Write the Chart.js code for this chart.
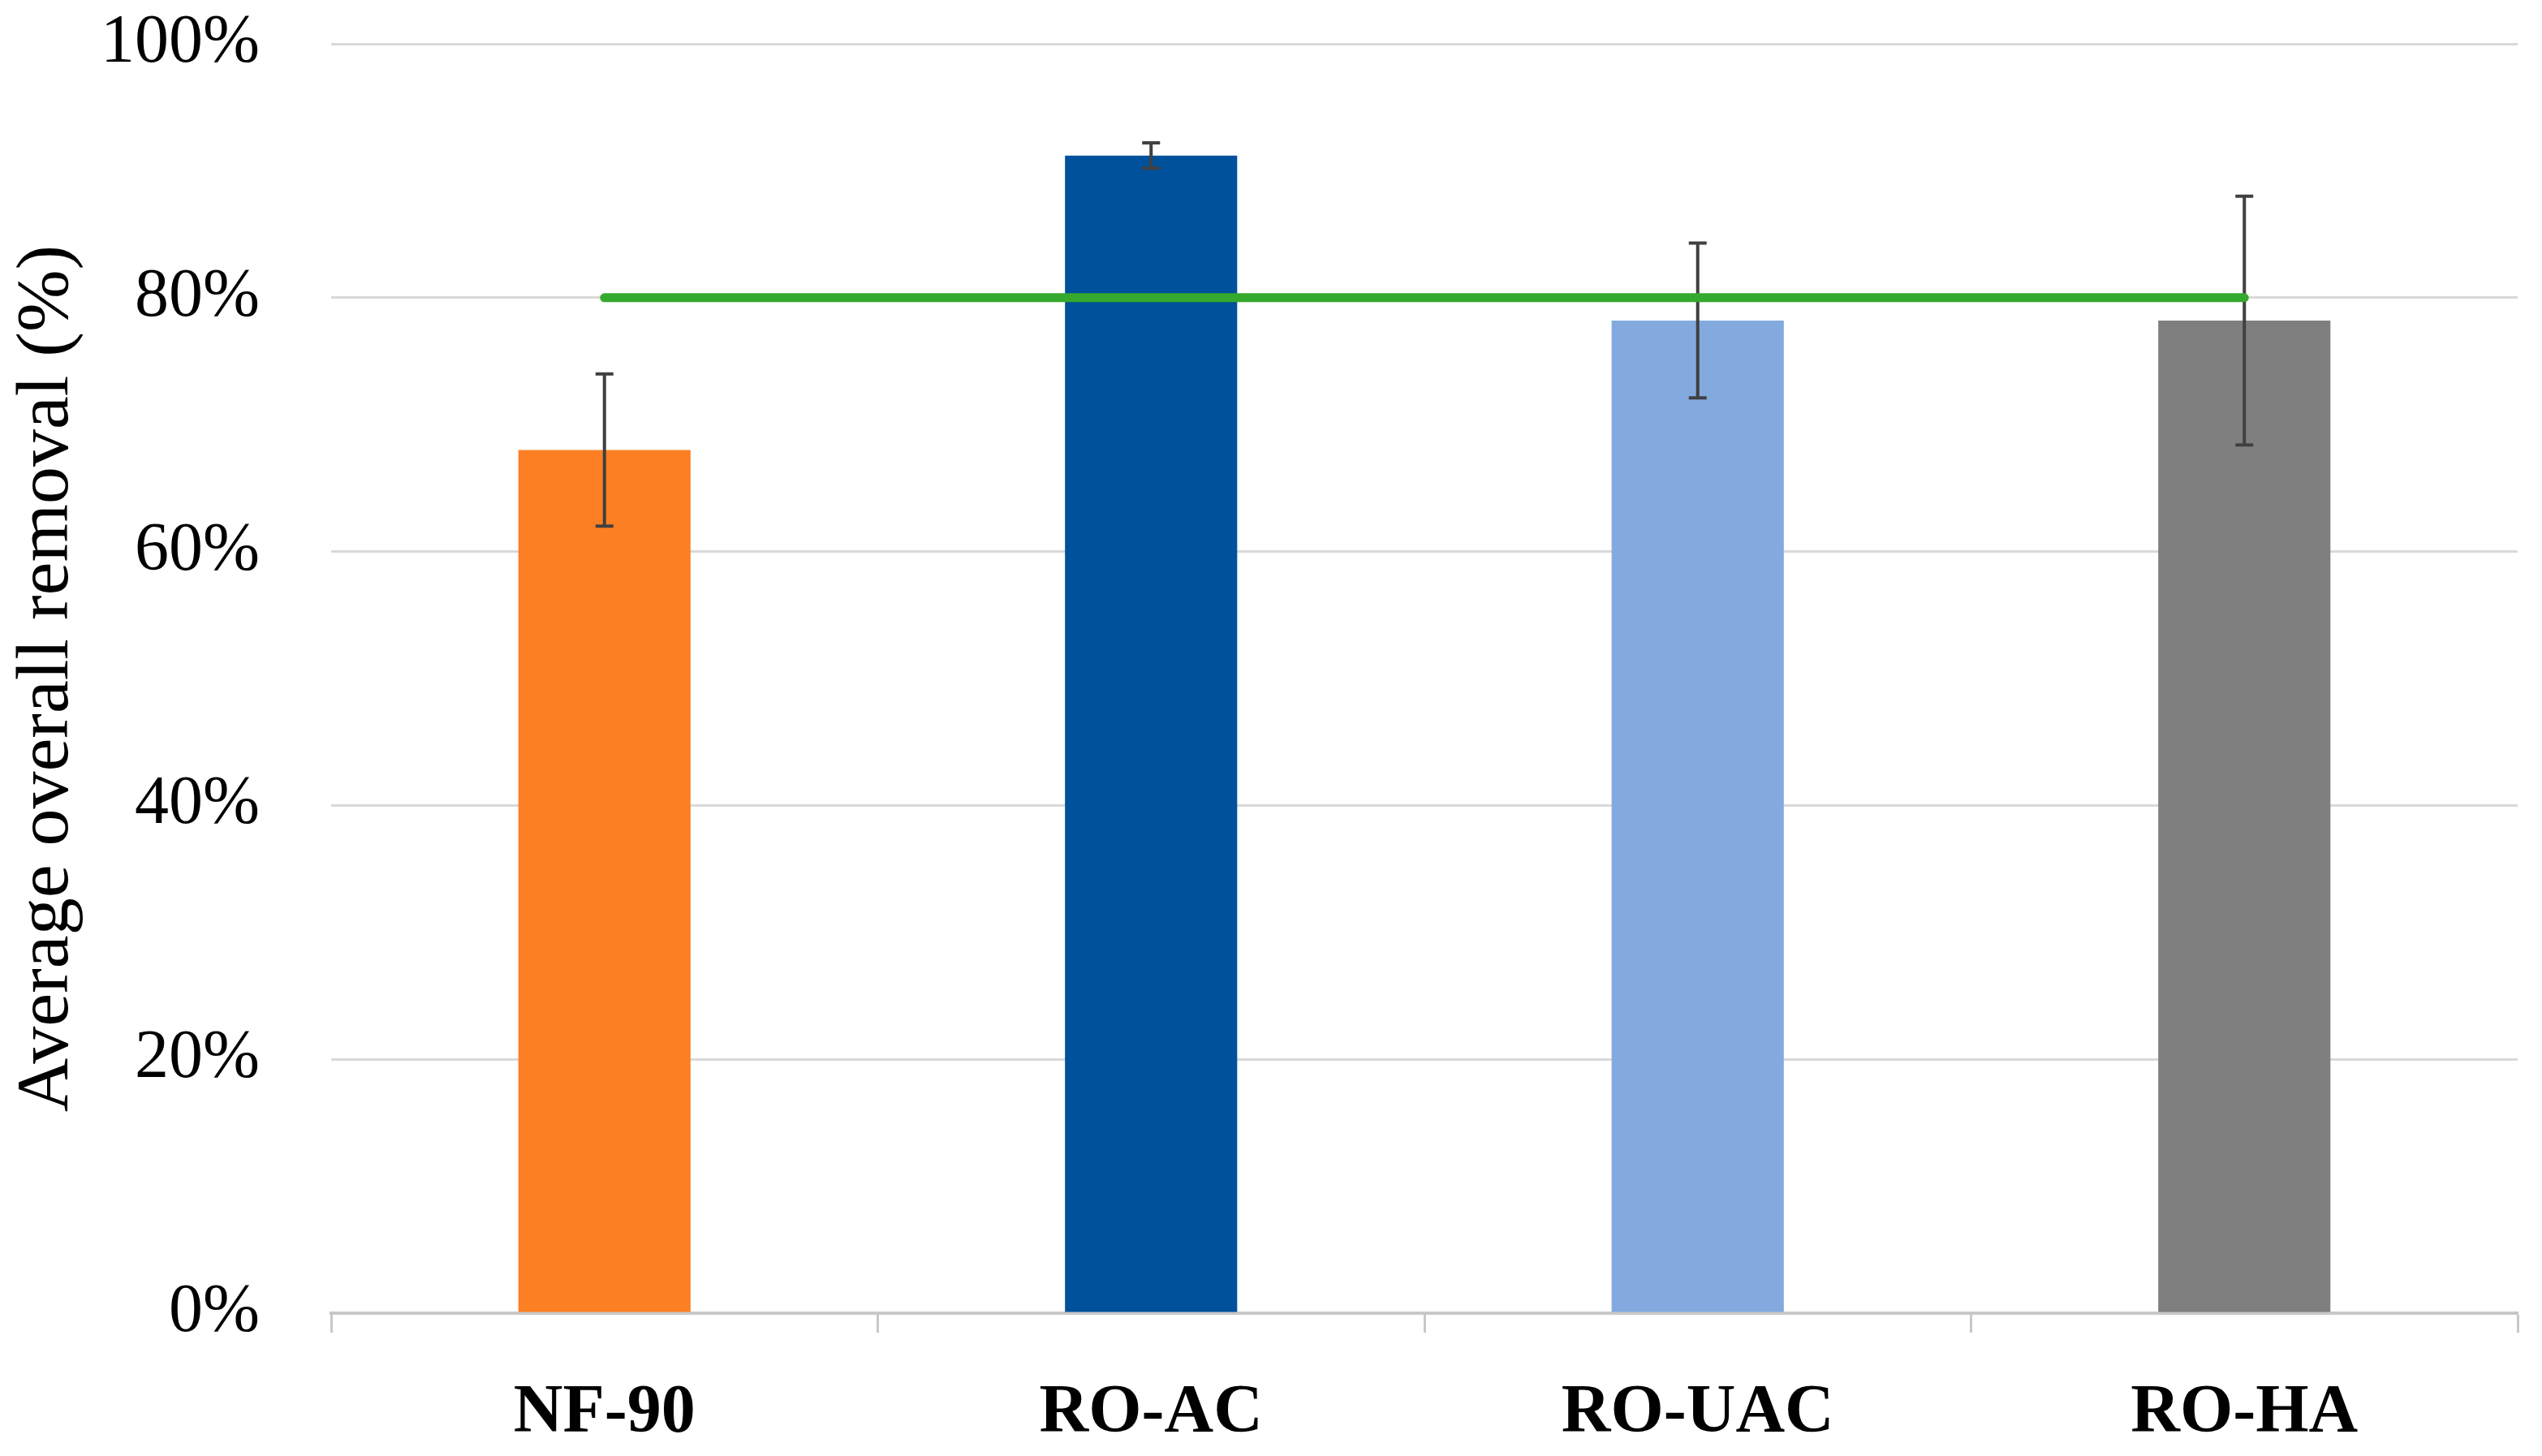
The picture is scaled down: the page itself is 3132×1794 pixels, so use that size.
<!DOCTYPE html>
<html>
<head>
<meta charset="utf-8">
<script src="https://cdn.jsdelivr.net/npm/chart.js@4/dist/chart.umd.min.js"></script>
<style>
  html, body { margin: 0; padding: 0; background: #ffffff; }
  #wrap { width: 3132px; height: 1794px; }
</style>
</head>
<body>
<div id="wrap"><canvas id="c" width="3132" height="1794"></canvas></div>
<script>
const categories = ["NF-90", "RO-AC", "RO-UAC", "RO-HA"];
const removal = [68, 91.2, 78.2, 78.2];
const errorSD = [6, 1, 6.1, 9.8];
const target = [80, 80, 80, 80];
const barColors = ["#fd7f23", "#00519b", "#82aadf", "#7f7f7f"];
const yTicks = [0, 20, 40, 60, 80, 100];
const yTitle = "Average overall removal (%)";

const serif = "'Liberation Serif', 'DejaVu Serif', serif";

const errorBarPlugin = {
  id: 'errorBars',
  afterDatasetDraw(chart, args) {
    if (args.meta.type !== 'bar') return;
    const ctx = chart.ctx;
    const y = chart.scales.y;
    ctx.save();
    ctx.strokeStyle = '#404040';
    ctx.lineWidth = 4;
    args.meta.data.forEach((el, i) => {
      const x = el.x;
      const hi = y.getPixelForValue(removal[i] + errorSD[i]);
      const lo = y.getPixelForValue(removal[i] - errorSD[i]);
      const cap = 11;
      ctx.beginPath();
      ctx.moveTo(x, hi); ctx.lineTo(x, lo);
      ctx.moveTo(x - cap, hi); ctx.lineTo(x + cap, hi);
      ctx.moveTo(x - cap, lo); ctx.lineTo(x + cap, lo);
      ctx.stroke();
    });
    ctx.restore();
  }
};

new Chart(document.getElementById('c'), {
  data: {
    labels: categories,
    datasets: [
      {
        type: 'line',
        label: 'Target',
        data: target,
        borderColor: '#35a92d',
        borderWidth: 11,
        pointRadius: 0,
        borderCapStyle: 'round',
        order: 0
      },
      {
        type: 'bar',
        label: 'Removal',
        data: removal,
        backgroundColor: barColors,
        borderWidth: 0,
        categoryPercentage: 1.0,
        barPercentage: 0.315,
        order: 1
      }
    ]
  },
  options: {
    responsive: false,
    animation: false,
    devicePixelRatio: 1,
    layout: { padding: { top: 54, right: 30, left: 0, bottom: 0 } },
    plugins: {
      legend: { display: false },
      tooltip: { enabled: false }
    },
    scales: {
      x: {
        offset: true,
        grid: {
          offset: true,
          drawOnChartArea: false,
          drawTicks: true,
          tickLength: 24,
          tickWidth: 3,
          tickColor: '#c8c8c8'
        },
        border: { display: true, color: '#c8c8c8', width: 4 },
        ticks: {
          color: '#000000',
          padding: 50,
          font: { family: serif, size: 84, weight: 'bold' }
        },
        afterFit(scale) { scale.height = 176; scale.paddingLeft = 0; scale.paddingRight = 0; }
      },
      y: {
        min: 0,
        max: 100,
        afterBuildTicks(scale) { scale.ticks = yTicks.map(v => ({ value: v })); },
        grid: { color: '#d9d9d9', lineWidth: 3, drawTicks: false },
        border: { display: false },
        ticks: {
          color: '#000000',
          padding: 88,
          font: { family: serif, size: 84 },
          callback: v => v + '%'
        },
        title: {
          display: true,
          text: yTitle,
          color: '#000000',
          padding: { top: 4, bottom: 0 },
          font: { family: serif, size: 92 }
        },
        afterFit(scale) { scale.width = 408; scale.paddingTop = 0; scale.paddingBottom = 0; }
      }
    }
  },
  plugins: [errorBarPlugin]
});
</script>
</body>
</html>
